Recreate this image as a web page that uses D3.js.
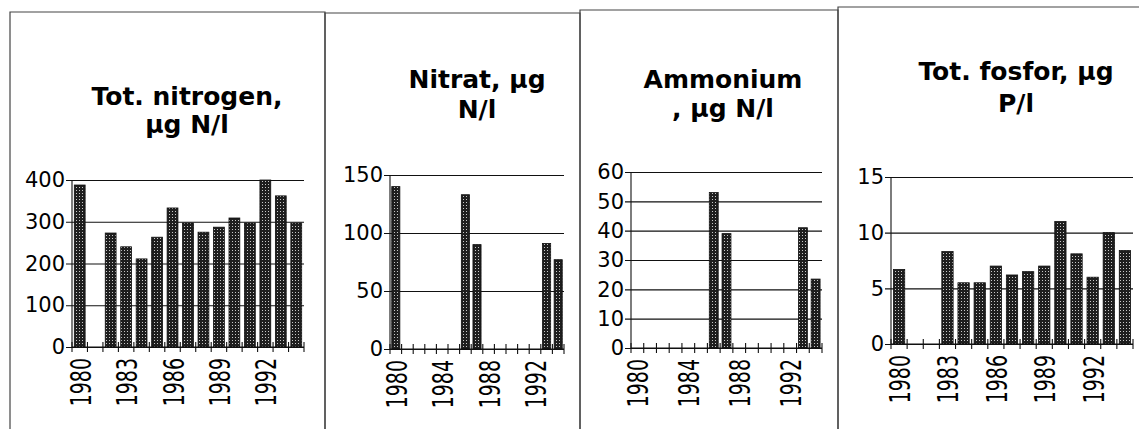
<!DOCTYPE html>
<html>
<head>
<meta charset="utf-8">
<script src="https://d3js.org/d3.v7.min.js"></script>
<style>
  body { margin: 0; background: #fff; }
  svg { display: block; }
</style>
</head>
<body>
<div class="chart"></div>
<script>
// years shown on every panel
var years = [1980, 1981, 1982, 1983, 1984, 1985, 1986, 1987, 1988, 1989, 1990, 1991, 1992, 1993, 1994];

// values (null = no bar)
var totNitrogen = [388, null, 273, 240, 211, 263, 333, 297, 275, 287, 309, 297, 400, 362, 297];
var nitrat      = [140, null, null, null, null, null, 133, 90, null, null, null, null, null, 91, 77];
var ammonium    = [null, null, null, null, null, null, 53, 39, null, null, null, null, null, 41, 23.5];
var totFosfor   = [6.7, null, null, 8.3, 5.5, 5.5, 7.0, 6.2, 6.5, 7.0, 11.0, 8.1, 6.0, 10.0, 8.4];

// tick labels
var ticksN   = [0, 100, 200, 300, 400];
var ticksNO3 = [0, 50, 100, 150];
var ticksNH4 = [0, 10, 20, 30, 40, 50, 60];
var ticksP   = [0, 5, 10, 15];
var yearLabels3 = [1980, 1983, 1986, 1989, 1992];
var yearLabels4 = [1980, 1984, 1988, 1992];

// titles
var titleN   = ["Tot. nitrogen,", "µg N/l"];
var titleNO3 = ["Nitrat, µg", "N/l"];
var titleNH4 = ["Ammonium", ", µg N/l"];
var titleP   = ["Tot. fosfor, µg", "P/l"];

var W = 1139, H = 429;

var panels = [
  { values: totNitrogen, ticks: ticksN, labels: yearLabels3, title: titleN,
    box: [10, 12, 325], x0: 72, x1: 304, yTop: 180, y0: 347, tx: 187, ty: [105, 133] },
  { values: nitrat, ticks: ticksNO3, labels: yearLabels4, title: titleNO3,
    box: [325, 13, 580], x0: 390, x1: 564, yTop: 175, y0: 349, tx: 477, ty: [88, 118] },
  { values: ammonium, ticks: ticksNH4, labels: yearLabels4, title: titleNH4,
    box: [580, 10, 838], x0: 631, x1: 822, yTop: 172, y0: 348, tx: 723, ty: [88, 117] },
  { values: totFosfor, ticks: ticksP, labels: yearLabels3, title: titleP,
    box: [838, 7, 1145], x0: 891, x1: 1133, yTop: 177, y0: 344, tx: 1016, ty: [80, 112] }
];

var svg = d3.select('.chart')
            .append('svg')
            .attr('width', W)
            .attr('height', H);

// stippled bar fill
var pat = svg.append('defs').append('pattern')
    .attr('id', 'dots')
    .attr('patternUnits', 'userSpaceOnUse')
    .attr('width', 3)
    .attr('height', 3);
pat.append('rect').attr('width', 3).attr('height', 3).attr('fill', '#1e1e1e');
pat.append('rect').attr('x', 1).attr('y', 1).attr('width', 1).attr('height', 1).attr('fill', '#c8c8c8');

panels.forEach(function (p) {
  var g = svg.append('g');

  // panel frame (open at the bottom, runs off the picture)
  g.append('path')
    .attr('d', 'M' + p.box[0] + ',440 V' + p.box[1] + ' H' + p.box[2] + ' V440')
    .attr('fill', 'none')
    .attr('stroke', '#444')
    .attr('stroke-width', 1.2);

  var data = years.map(function (yr, i) { return { year: yr, v: p.values[i] }; });

  var x = d3.scaleBand()
            .domain(years)
            .range([p.x0, p.x1])
            .paddingInner(0.3)
            .paddingOuter(0.15);

  var y = d3.scaleLinear()
            .domain([0, d3.max(p.ticks)])
            .range([p.y0, p.yTop]);

  // gridlines + y axis
  var yAxis = d3.axisLeft(y)
                .tickValues(p.ticks)
                .tickSize(-(p.x1 - p.x0) - 6)
                .tickFormat(d3.format('d'))
                .tickPadding(7);

  var ya = g.append('g')
            .attr('transform', 'translate(' + p.x0 + ',0)')
            .call(yAxis);
  ya.select('.domain').remove();
  ya.selectAll('.tick line')
    .attr('x1', -6)
    .attr('x2', p.x1 - p.x0)
    .attr('stroke', '#111')
    .attr('stroke-width', 1.1);
  ya.selectAll('.tick text')
    .attr('font-family', 'DejaVu Sans, sans-serif')
    .attr('font-size', 21)
    .attr('fill', '#000');

  g.append('line')
    .attr('x1', p.x0).attr('x2', p.x0)
    .attr('y1', p.yTop).attr('y2', p.y0)
    .attr('stroke', '#111')
    .attr('stroke-width', 1.1);

  // bars
  g.selectAll('rect.bar')
    .data(data.filter(function (d) { return d.v != null; }))
    .enter()
    .append('rect')
    .attr('class', 'bar')
    .attr('x', function (d) { return x(d.year); })
    .attr('y', function (d) { return y(d.v); })
    .attr('width', x.bandwidth())
    .attr('height', function (d) { return y(0) - y(d.v); })
    .attr('fill', 'url(#dots)')
    .attr('stroke', '#111')
    .attr('stroke-width', 0.8);

  // category axis with crossing ticks at boundaries
  var step = x.step();
  var bounds = d3.range(years.length + 1).map(function (i) { return p.x0 + i * step; });
  g.append('line')
    .attr('x1', p.x0).attr('x2', p.x1)
    .attr('y1', p.y0).attr('y2', p.y0)
    .attr('stroke', '#111')
    .attr('stroke-width', 1.1);
  g.selectAll('line.xt')
    .data(bounds)
    .enter()
    .append('line')
    .attr('class', 'xt')
    .attr('x1', function (d) { return d; }).attr('x2', function (d) { return d; })
    .attr('y1', p.y0 - 5).attr('y2', p.y0 + 5)
    .attr('stroke', '#111')
    .attr('stroke-width', 1.1);

  // rotated year labels (narrow, tall digits)
  g.selectAll('text.yr')
    .data(p.labels)
    .enter()
    .append('text')
    .attr('class', 'yr')
    .attr('transform', function (d) {
      var cx = x(d) + x.bandwidth() / 2 + 11;
      return 'translate(' + cx + ',' + (p.y0 + 11) + ') rotate(-90) scale(1,1.45)';
    })
    .attr('text-anchor', 'end')
    .attr('font-family', 'DejaVu Sans, sans-serif')
    .attr('font-size', 19)
    .attr('fill', '#000')
    .text(function (d) { return d; });

  // title
  g.selectAll('text.title')
    .data(p.title)
    .enter()
    .append('text')
    .attr('class', 'title')
    .attr('x', p.tx)
    .attr('y', function (d, i) { return p.ty[i]; })
    .attr('text-anchor', 'middle')
    .attr('font-family', 'DejaVu Sans, sans-serif')
    .attr('font-weight', 'bold')
    .attr('font-size', 25)
    .attr('fill', '#000')
    .text(function (d) { return d; });
});
</script>
</body>
</html>
